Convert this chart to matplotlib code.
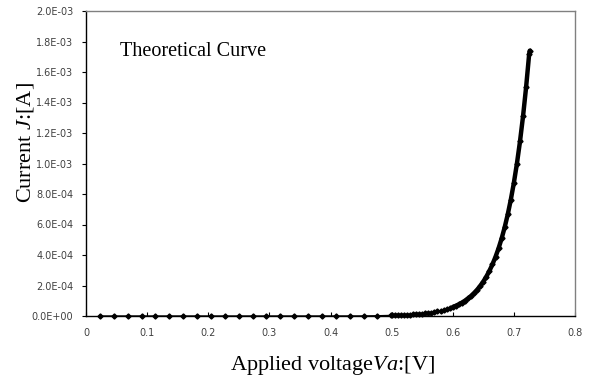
import matplotlib
matplotlib.use("Agg")
import matplotlib.pyplot as plt
from matplotlib.ticker import FixedLocator, FuncFormatter

plt.rcParams["mathtext.fontset"] = "custom"
plt.rcParams["mathtext.rm"] = "Liberation Serif"
plt.rcParams["mathtext.it"] = "Liberation Serif:italic"

# ── Data ─────────────────────────────────────────────────────────────────────

# low-voltage samples: current is effectively zero here
sparse_v = [0.0227, 0.0454, 0.0681, 0.0908, 0.1135, 0.1362, 0.1589, 0.1816,
            0.2043, 0.2270, 0.2497, 0.2724, 0.2951, 0.3178, 0.3405, 0.3632,
            0.3859, 0.4086, 0.4313, 0.4540, 0.4767, 0.4994]
sparse_j = [0.0, 0.0, 0.0, 0.0, 0.0, 0.0, 0.0, 0.0,
            0.0, 0.0, 0.0, 0.0, 0.0, 0.0, 0.0, 1.0e-8,
            3.0e-8, 1.0e-7, 2.0e-7, 5.0e-7, 1.6e-6, 3.8e-6]

# dense samples along the rising part of the curve
curve_v = [0.500, 0.505, 0.510, 0.515, 0.520, 0.525, 0.530, 0.535, 0.540,
           0.545, 0.550, 0.555, 0.560, 0.565, 0.570, 0.575, 0.580, 0.585,
           0.590, 0.595, 0.600, 0.605, 0.610, 0.615, 0.620, 0.625, 0.630,
           0.635, 0.640, 0.645, 0.650, 0.655, 0.660, 0.665, 0.670, 0.675,
           0.680, 0.685, 0.690, 0.695, 0.700, 0.705, 0.710, 0.715, 0.720,
           0.725, 0.726]
curve_j = [3.92e-6, 4.49e-6, 5.14e-6, 5.88e-6, 6.73e-6, 7.71e-6, 8.82e-6,
           1.010e-5, 1.156e-5, 1.323e-5, 1.515e-5, 1.734e-5, 1.985e-5,
           2.272e-5, 2.601e-5, 2.977e-5, 3.408e-5, 3.901e-5, 4.466e-5,
           5.112e-5, 5.852e-5, 6.699e-5, 7.668e-5, 8.778e-5, 1.005e-4,
           1.150e-4, 1.317e-4, 1.507e-4, 1.725e-4, 1.975e-4, 2.261e-4,
           2.588e-4, 2.962e-4, 3.391e-4, 3.882e-4, 4.443e-4, 5.086e-4,
           5.822e-4, 6.665e-4, 7.630e-4, 8.734e-4, 9.998e-4, 1.1445e-3,
           1.310e-3, 1.500e-3, 1.717e-3, 1.740e-3]

x_ticks = [0.0, 0.1, 0.2, 0.3, 0.4, 0.5, 0.6, 0.7, 0.8]
x_tick_labels = ["0", "0.1", "0.2", "0.3", "0.4", "0.5", "0.6", "0.7", "0.8"]
y_ticks = [0.0, 2e-4, 4e-4, 6e-4, 8e-4, 1e-3, 1.2e-3, 1.4e-3, 1.6e-3, 1.8e-3, 2e-3]

# ── Plot ─────────────────────────────────────────────────────────────────────

fig = plt.figure(figsize=(5.92, 3.78), dpi=100)
ax = fig.add_axes([86 / 592, 1 - 316 / 378, (575 - 86) / 592, (316 - 11) / 378])

ax.plot(sparse_v + curve_v, sparse_j + curve_j, color="black", lw=1.0,
        marker="D", ms=2.6, zorder=3, clip_on=False)
ax.plot(curve_v[20:], curve_j[20:], color="black", lw=3.2,
        solid_capstyle="round", zorder=4)

ax.set_xlim(0, 0.8)
ax.set_ylim(0, 2.0e-3)
ax.xaxis.set_major_locator(FixedLocator(x_ticks))
ax.set_xticklabels(x_tick_labels)
ax.yaxis.set_major_locator(FixedLocator(y_ticks))
ax.yaxis.set_major_formatter(FuncFormatter(lambda v, _: f"{v:.1E}"))

ax.tick_params(axis="x", direction="in", length=3, width=0.8, pad=9,
               labelsize=7, labelcolor="#404040")
ax.tick_params(axis="y", direction="out", length=3, width=0.8, pad=6,
               labelsize=7, labelcolor="#404040")

for side in ("left", "bottom"):
    ax.spines[side].set_color("black")
    ax.spines[side].set_linewidth(1.0)
for side in ("top", "right"):
    ax.spines[side].set_color("#808080")
    ax.spines[side].set_linewidth(1.0)

serif = "Liberation Serif"
fig.text(120 / 592, 1 - 56 / 378, "Theoretical Curve", family=serif,
         fontsize=14.5, ha="left", va="baseline")

fig.text(332 / 592, 1 - 370 / 378, r"Applied voltage$\mathit{Va}$:[V]",
         family=serif, fontsize=16, ha="center", va="baseline")
fig.text(25 / 592, 1 - 143 / 378, r"Current $\mathit{J}$:[A]",
         family=serif, fontsize=16, ha="center", va="center", rotation=90)

fig.savefig("out.png", dpi=100)
